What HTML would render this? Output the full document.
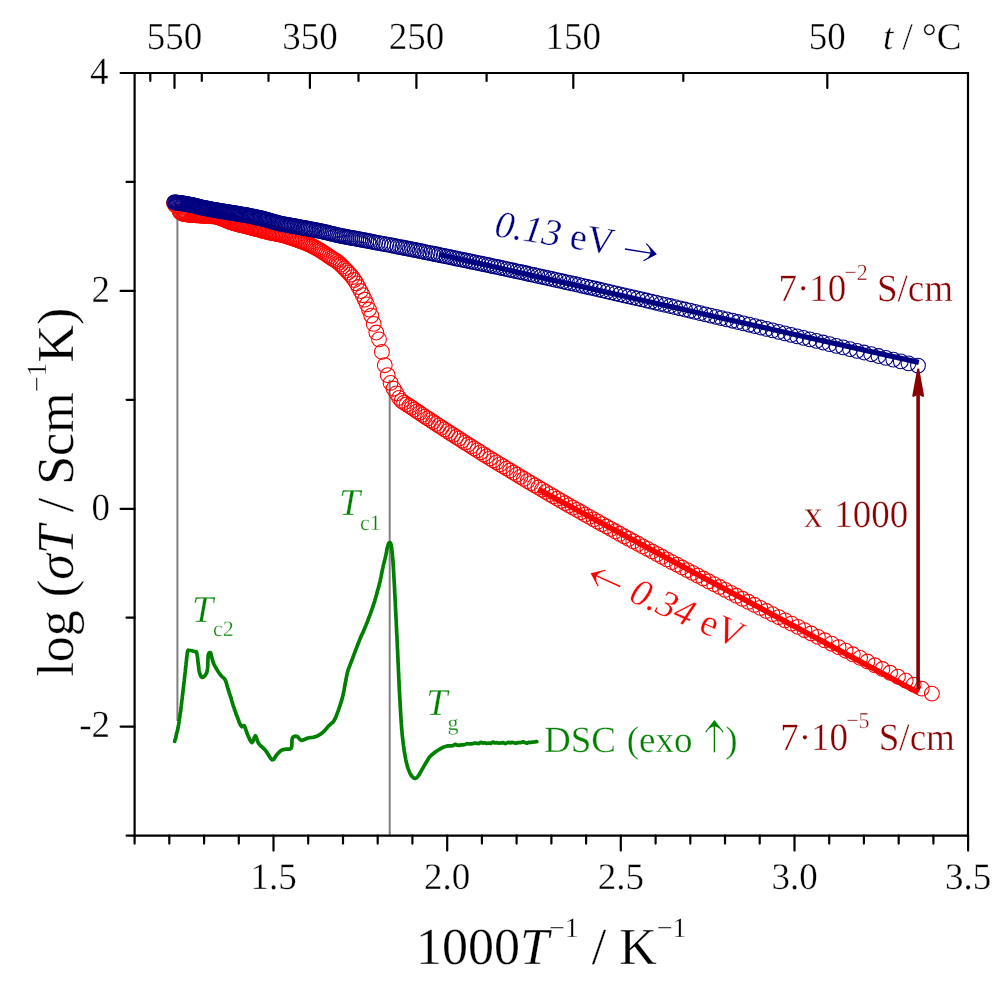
<!DOCTYPE html>
<html><head><meta charset="utf-8"><style>
html,body{margin:0;padding:0;background:#fff;width:1008px;height:981px;overflow:hidden}
svg{display:block;will-change:transform}
text{font-family:"Liberation Serif",serif;text-rendering:geometricPrecision;stroke:#fff;stroke-width:0.45px;stroke-opacity:0.8}
</style></head><body>
<svg width="1008" height="981" viewBox="0 0 1008 981">
<rect width="1008" height="981" fill="#fff"/>
<g stroke="#808080" stroke-width="2">
<line x1="177.4" y1="212" x2="177.4" y2="721"/>
<line x1="389.7" y1="380" x2="389.7" y2="835"/>
</g>
<path d="M174.6,741.4 L175.2,739.2 L175.7,738.6 L176.1,736.1 L176.6,733.1 L177.1,732.3 L177.5,730.3 L178.0,728.0 L178.3,726.1 L178.6,724.6 L178.8,723.2 L179.1,721.3 L179.4,718.6 L179.7,717.7 L179.9,715.7 L180.2,713.4 L180.5,711.8 L180.7,711.2 L181.0,707.7 L181.3,705.5 L181.5,703.6 L181.7,701.9 L181.9,700.0 L182.2,698.5 L182.4,696.2 L182.6,694.6 L182.8,693.1 L183.0,691.0 L183.3,689.0 L183.5,687.6 L183.7,685.2 L183.9,683.4 L184.1,681.6 L184.3,680.5 L184.5,678.3 L184.7,676.3 L184.9,674.4 L185.1,672.8 L185.3,671.4 L185.4,669.5 L185.6,668.7 L185.8,666.0 L186.0,664.4 L186.1,662.8 L186.4,661.3 L186.6,658.5 L186.8,657.0 L187.1,654.7 L187.4,652.7 L187.8,650.6 L188.1,650.1 L188.5,650.3 L189.2,650.5 L190.4,650.5 L192.0,650.8 L193.5,651.2 L194.8,651.6 L195.6,651.7 L196.1,651.7 L196.5,652.2 L197.0,653.9 L197.3,656.1 L197.6,657.6 L197.7,659.5 L197.9,661.0 L198.1,662.6 L198.3,664.7 L198.5,664.8 L198.7,667.8 L199.0,670.3 L199.3,671.8 L200.0,674.3 L200.7,675.9 L201.4,676.9 L202.2,677.4 L203.1,677.2 L204.2,676.4 L205.2,675.2 L206.0,674.0 L206.6,672.9 L207.0,671.8 L207.3,670.4 L207.6,668.4 L207.8,665.3 L207.8,663.0 L207.9,661.5 L207.9,658.9 L208.0,657.8 L208.2,655.0 L208.7,653.5 L209.3,652.7 L209.9,652.5 L210.5,652.7 L210.9,653.5 L211.3,655.0 L211.6,656.7 L212.0,658.3 L212.4,659.7 L212.8,661.0 L213.2,662.4 L213.9,664.0 L214.8,665.9 L216.0,668.0 L217.2,670.0 L218.3,671.8 L219.2,673.2 L220.1,674.3 L220.9,675.3 L221.7,676.3 L222.6,677.1 L223.5,677.9 L224.3,678.6 L225.1,679.7 L225.6,680.8 L226.0,681.9 L226.5,683.6 L227.3,686.4 L228.0,688.7 L228.7,690.8 L229.2,692.9 L229.8,694.3 L230.4,696.3 L231.0,697.8 L231.6,700.3 L232.2,702.3 L232.8,704.1 L233.4,706.5 L234.0,707.7 L234.6,709.8 L235.2,711.2 L235.8,712.9 L236.4,715.1 L237.0,716.2 L237.6,718.0 L238.2,719.1 L238.8,721.3 L239.3,722.5 L240.1,724.4 L240.8,725.7 L241.9,726.8 L242.7,726.3 L243.4,725.5 L244.2,725.7 L245.0,727.3 L245.8,729.7 L246.6,732.2 L247.5,734.6 L248.6,737.0 L249.7,739.5 L250.9,741.6 L252.0,742.5 L252.9,741.5 L253.8,739.2 L254.6,736.8 L255.4,735.8 L256.1,736.8 L256.8,738.9 L257.6,741.4 L258.7,743.6 L260.2,745.3 L261.9,746.9 L263.7,748.5 L265.5,750.4 L267.2,752.9 L268.1,754.3 L269.0,755.8 L270.7,758.4 L272.2,759.8 L273.5,759.5 L274.6,758.2 L275.6,756.3 L276.7,754.8 L277.8,753.6 L278.9,752.4 L280.1,751.3 L281.2,750.4 L282.3,749.9 L283.4,749.6 L284.5,749.4 L285.7,749.2 L287.1,749.1 L288.7,749.2 L290.2,749.0 L291.3,748.1 L291.8,746.0 L291.9,743.1 L292.0,740.1 L292.4,738.0 L293.3,736.9 L294.4,736.3 L295.7,736.2 L296.9,736.4 L298.0,737.1 L299.0,738.4 L300.1,739.6 L301.4,740.3 L302.9,740.1 L304.6,739.5 L306.4,738.6 L308.1,738.0 L309.8,737.7 L311.4,737.5 L313.1,737.3 L314.8,736.9 L316.6,736.2 L318.4,735.4 L320.2,734.4 L322.0,733.1 L323.9,731.4 L325.8,729.3 L327.6,727.1 L329.3,725.3 L330.7,724.0 L331.9,723.1 L333.0,722.1 L334.2,720.4 L335.5,717.9 L336.1,716.3 L336.7,714.8 L337.3,713.1 L338.0,711.4 L338.5,709.8 L339.1,708.2 L339.6,706.7 L340.1,705.2 L341.1,702.1 L342.0,699.1 L342.8,696.0 L343.5,692.9 L344.1,689.9 L344.6,686.8 L345.2,683.7 L345.8,680.6 L346.4,677.4 L347.0,674.4 L347.7,671.5 L348.4,669.1 L349.2,667.1 L350.1,664.8 L350.7,663.2 L351.3,661.7 L352.1,659.6 L352.9,657.5 L353.5,655.8 L354.1,654.1 L354.8,652.4 L355.4,650.6 L356.1,648.9 L356.8,647.1 L357.4,645.5 L358.1,643.8 L358.7,642.2 L359.6,640.0 L360.5,637.8 L361.4,635.7 L362.4,633.7 L363.3,631.6 L364.2,629.5 L365.1,627.3 L366.0,625.1 L366.6,623.5 L367.3,621.9 L367.9,620.3 L368.5,618.6 L369.2,617.0 L369.8,615.3 L370.4,613.6 L371.0,612.0 L371.6,610.3 L372.2,608.7 L372.7,607.1 L373.3,605.5 L373.8,603.9 L374.3,602.4 L374.8,600.8 L375.4,598.5 L376.1,596.2 L376.7,594.1 L377.2,592.0 L377.7,590.2 L378.2,588.4 L378.9,585.9 L379.4,584.1 L379.8,582.5 L380.3,580.3 L380.6,578.7 L381.0,577.1 L381.3,575.3 L381.7,573.5 L382.0,571.6 L382.4,569.7 L382.8,568.1 L383.1,566.4 L383.8,563.6 L384.4,561.2 L385.0,558.9 L385.6,556.5 L386.1,554.0 L386.6,551.4 L387.0,549.0 L387.5,547.0 L388.0,545.3 L388.5,543.8 L389.1,542.8 L389.6,542.5 L390.1,542.7 L390.6,543.3 L391.1,544.8 L391.6,547.5 L391.8,549.5 L392.1,551.4 L392.2,553.1 L392.4,554.8 L392.5,556.4 L392.7,558.5 L392.9,560.5 L393.0,562.5 L393.1,564.3 L393.3,566.1 L393.4,567.9 L393.5,569.7 L393.6,571.4 L393.7,573.2 L393.8,574.9 L393.9,576.7 L394.0,578.4 L394.1,580.1 L394.2,581.8 L394.3,583.4 L394.4,585.1 L394.5,586.8 L394.6,588.5 L394.6,590.2 L394.7,592.0 L394.8,593.8 L394.9,595.5 L395.0,597.3 L395.1,599.1 L395.2,600.8 L395.3,602.5 L395.3,604.2 L395.4,606.0 L395.5,607.7 L395.6,609.4 L395.7,611.1 L395.8,612.7 L395.8,614.4 L395.9,616.0 L396.0,617.7 L396.1,619.3 L396.2,621.0 L396.3,622.6 L396.3,624.3 L396.4,625.9 L396.5,627.6 L396.6,629.2 L396.6,630.8 L396.7,632.5 L396.8,634.1 L396.9,635.8 L397.0,637.4 L397.0,639.1 L397.1,640.7 L397.2,642.4 L397.3,644.0 L397.3,645.7 L397.4,647.3 L397.5,649.0 L397.6,650.7 L397.7,652.4 L397.7,654.2 L397.8,655.9 L397.9,657.6 L398.0,659.3 L398.0,661.1 L398.1,662.8 L398.2,664.6 L398.3,666.3 L398.4,668.1 L398.4,669.9 L398.5,671.5 L398.6,673.2 L398.7,674.9 L398.7,676.6 L398.8,678.2 L398.9,679.9 L399.0,681.7 L399.1,683.4 L399.1,685.2 L399.2,686.9 L399.3,688.7 L399.4,690.5 L399.5,692.3 L399.6,694.0 L399.7,695.8 L399.8,697.8 L399.9,699.7 L400.0,701.7 L400.1,703.4 L400.2,705.2 L400.3,706.9 L400.4,708.6 L400.5,710.3 L400.6,712.0 L400.7,713.7 L400.8,715.3 L400.9,717.0 L401.0,719.3 L401.2,721.6 L401.3,723.7 L401.5,725.9 L401.6,728.0 L401.8,730.0 L402.0,731.9 L402.1,733.8 L402.3,735.6 L402.5,737.3 L402.7,739.0 L402.9,740.7 L403.1,742.3 L403.3,744.0 L403.5,745.7 L403.8,747.4 L404.0,749.1 L404.2,750.8 L404.5,752.4 L404.8,754.0 L405.3,757.0 L405.8,759.8 L406.4,762.4 L407.0,764.8 L407.6,767.0 L408.3,769.1 L409.1,771.1 L409.8,772.8 L410.6,774.3 L411.3,775.5 L412.1,776.5 L412.8,777.2 L413.5,777.8 L414.1,778.2 L414.7,778.4 L415.2,778.4 L415.8,778.2 L416.4,777.9 L417.0,777.4 L417.6,776.8 L418.2,776.0 L418.9,775.1 L419.5,774.0 L420.2,772.8 L421.0,771.5 L421.8,770.0 L422.7,768.4 L423.6,766.8 L424.5,765.2 L425.4,763.7 L426.3,762.2 L427.2,760.8 L428.0,759.5 L428.6,758.5 L429.0,757.7 L429.6,757.0 L430.5,756.0 L431.9,754.7 L433.7,753.3 L435.7,751.8 L437.6,750.5 L439.4,749.3 L441.1,748.3 L443.0,747.3 L445.6,746.5 L447.3,745.9 L449.0,745.9 L451.0,745.8 L453.0,745.6 L455.1,744.3 L457.3,745.2 L459.3,745.4 L461.4,744.9 L463.3,744.9 L465.2,744.5 L467.0,743.5 L468.9,744.0 L470.8,743.8 L472.8,743.6 L475.0,743.0 L477.3,743.3 L479.1,743.6 L480.9,742.3 L482.7,743.1 L484.7,742.7 L486.7,743.4 L488.7,743.0 L490.8,743.5 L492.9,742.0 L495.0,743.0 L497.0,742.7 L499.1,743.1 L501.1,742.9 L503.2,742.6 L505.3,743.6 L507.3,742.8 L508.9,742.3 L510.5,742.9 L512.1,742.3 L513.7,742.7 L515.8,743.3 L517.8,742.7 L519.8,742.6 L521.5,742.4 L523.2,741.8 L524.9,742.5 L526.9,743.2 L529.0,742.3 L530.7,742.5 L532.3,742.1 L534.9,741.9 L536.8,741.7" fill="none" stroke="#008000" stroke-width="3.7" stroke-linejoin="round" stroke-linecap="round"/>
<g fill="none" stroke="#ff0000" stroke-width="1.05"><circle cx="179.5" cy="211.3" r="7.4"/><circle cx="180.4" cy="212.1" r="7.4"/><circle cx="181.2" cy="212.9" r="7.4"/><circle cx="182.1" cy="213.5" r="7.4"/><circle cx="183.0" cy="213.7" r="7.4"/><circle cx="183.9" cy="213.9" r="7.4"/><circle cx="184.8" cy="214.1" r="7.4"/><circle cx="185.7" cy="214.2" r="7.4"/><circle cx="186.6" cy="214.4" r="7.4"/><circle cx="187.5" cy="214.5" r="7.4"/><circle cx="188.4" cy="214.6" r="7.4"/><circle cx="189.3" cy="214.7" r="7.4"/><circle cx="190.2" cy="214.7" r="7.4"/><circle cx="191.1" cy="214.8" r="7.4"/><circle cx="192.0" cy="214.9" r="7.4"/><circle cx="192.9" cy="215.0" r="7.4"/><circle cx="193.9" cy="215.1" r="7.4"/><circle cx="194.8" cy="215.1" r="7.4"/><circle cx="195.7" cy="215.2" r="7.4"/><circle cx="196.7" cy="215.3" r="7.4"/><circle cx="197.6" cy="215.3" r="7.4"/><circle cx="198.6" cy="215.4" r="7.4"/><circle cx="199.5" cy="215.5" r="7.4"/><circle cx="200.5" cy="215.5" r="7.4"/><circle cx="201.4" cy="215.6" r="7.4"/><circle cx="202.4" cy="215.6" r="7.4"/><circle cx="203.4" cy="215.7" r="7.4"/><circle cx="204.3" cy="215.8" r="7.4"/><circle cx="205.3" cy="215.8" r="7.4"/><circle cx="206.3" cy="215.9" r="7.4"/><circle cx="207.3" cy="216.0" r="7.4"/><circle cx="208.3" cy="216.0" r="7.4"/><circle cx="209.2" cy="216.1" r="7.4"/><circle cx="210.2" cy="216.1" r="7.4"/><circle cx="211.2" cy="216.2" r="7.4"/><circle cx="212.3" cy="216.2" r="7.4"/><circle cx="213.3" cy="216.3" r="7.4"/><circle cx="214.3" cy="216.4" r="7.4"/><circle cx="215.3" cy="216.5" r="7.4"/><circle cx="216.3" cy="216.7" r="7.4"/><circle cx="217.3" cy="217.0" r="7.4"/><circle cx="218.4" cy="217.3" r="7.4"/><circle cx="219.4" cy="217.7" r="7.4"/><circle cx="220.5" cy="218.0" r="7.4"/><circle cx="221.5" cy="218.4" r="7.4"/><circle cx="222.6" cy="218.8" r="7.4"/><circle cx="223.6" cy="219.2" r="7.4"/><circle cx="224.7" cy="219.7" r="7.4"/><circle cx="225.7" cy="220.1" r="7.4"/><circle cx="226.8" cy="220.6" r="7.4"/><circle cx="227.9" cy="221.1" r="7.4"/><circle cx="229.0" cy="221.5" r="7.4"/><circle cx="230.0" cy="221.9" r="7.4"/><circle cx="231.1" cy="222.3" r="7.4"/><circle cx="232.2" cy="222.6" r="7.4"/><circle cx="233.3" cy="223.0" r="7.4"/><circle cx="234.4" cy="223.3" r="7.4"/><circle cx="235.5" cy="223.6" r="7.4"/><circle cx="236.7" cy="223.9" r="7.4"/><circle cx="237.8" cy="224.2" r="7.4"/><circle cx="238.9" cy="224.5" r="7.4"/><circle cx="240.1" cy="224.8" r="7.4"/><circle cx="241.2" cy="225.1" r="7.4"/><circle cx="242.4" cy="225.4" r="7.4"/><circle cx="243.5" cy="225.7" r="7.4"/><circle cx="244.7" cy="225.9" r="7.4"/><circle cx="245.9" cy="226.2" r="7.4"/><circle cx="247.0" cy="226.5" r="7.4"/><circle cx="248.2" cy="226.8" r="7.4"/><circle cx="249.4" cy="227.2" r="7.4"/><circle cx="250.7" cy="227.5" r="7.4"/><circle cx="251.9" cy="227.8" r="7.4"/><circle cx="253.1" cy="228.1" r="7.4"/><circle cx="254.3" cy="228.5" r="7.4"/><circle cx="255.6" cy="228.8" r="7.4"/><circle cx="256.8" cy="229.1" r="7.4"/><circle cx="258.1" cy="229.5" r="7.4"/><circle cx="259.4" cy="229.8" r="7.4"/><circle cx="260.7" cy="230.2" r="7.4"/><circle cx="261.9" cy="230.5" r="7.4"/><circle cx="263.2" cy="230.8" r="7.4"/><circle cx="264.6" cy="231.2" r="7.4"/><circle cx="265.9" cy="231.5" r="7.4"/><circle cx="267.2" cy="231.8" r="7.4"/><circle cx="268.5" cy="232.2" r="7.4"/><circle cx="269.9" cy="232.5" r="7.4"/><circle cx="271.2" cy="232.8" r="7.4"/><circle cx="272.6" cy="233.1" r="7.4"/><circle cx="274.0" cy="233.3" r="7.4"/><circle cx="275.4" cy="233.6" r="7.4"/><circle cx="276.8" cy="233.9" r="7.4"/><circle cx="278.2" cy="234.1" r="7.4"/><circle cx="279.6" cy="234.4" r="7.4"/><circle cx="281.0" cy="234.8" r="7.4"/><circle cx="282.5" cy="235.1" r="7.4"/><circle cx="283.9" cy="235.5" r="7.4"/><circle cx="285.4" cy="235.9" r="7.4"/><circle cx="286.9" cy="236.4" r="7.4"/><circle cx="288.3" cy="236.9" r="7.4"/><circle cx="289.8" cy="237.4" r="7.4"/><circle cx="291.3" cy="237.9" r="7.4"/><circle cx="292.9" cy="238.4" r="7.4"/><circle cx="294.4" cy="239.0" r="7.4"/><circle cx="295.9" cy="239.5" r="7.4"/><circle cx="297.5" cy="240.0" r="7.4"/><circle cx="299.1" cy="240.6" r="7.4"/><circle cx="300.6" cy="241.1" r="7.4"/><circle cx="302.2" cy="241.7" r="7.4"/><circle cx="303.8" cy="242.3" r="7.4"/><circle cx="305.4" cy="243.0" r="7.4"/><circle cx="307.1" cy="243.7" r="7.4"/><circle cx="308.7" cy="244.4" r="7.4"/><circle cx="310.4" cy="245.1" r="7.4"/><circle cx="312.0" cy="246.0" r="7.4"/><circle cx="313.7" cy="246.8" r="7.4"/><circle cx="315.4" cy="247.7" r="7.4"/><circle cx="317.1" cy="248.6" r="7.4"/><circle cx="318.9" cy="249.6" r="7.4"/><circle cx="320.6" cy="250.7" r="7.4"/><circle cx="322.3" cy="251.8" r="7.4"/><circle cx="324.1" cy="252.9" r="7.4"/><circle cx="325.9" cy="254.1" r="7.4"/><circle cx="327.7" cy="255.4" r="7.4"/><circle cx="329.5" cy="256.7" r="7.4"/><circle cx="331.3" cy="258.0" r="7.4"/><circle cx="333.2" cy="259.1" r="7.4"/><circle cx="335.0" cy="260.2" r="7.4"/><circle cx="336.9" cy="261.4" r="7.4"/><circle cx="338.8" cy="262.9" r="7.4"/><circle cx="340.7" cy="264.6" r="7.4"/><circle cx="342.6" cy="266.5" r="7.4"/><circle cx="344.5" cy="268.5" r="7.4"/><circle cx="346.5" cy="270.5" r="7.4"/><circle cx="348.4" cy="272.5" r="7.4"/><circle cx="350.4" cy="274.7" r="7.4"/><circle cx="352.4" cy="277.1" r="7.4"/><circle cx="354.4" cy="280.0" r="7.4"/><circle cx="356.5" cy="283.3" r="7.4"/><circle cx="358.5" cy="287.0" r="7.4"/><circle cx="360.6" cy="291.0" r="7.4"/><circle cx="362.7" cy="295.2" r="7.4"/><circle cx="364.8" cy="299.6" r="7.4"/><circle cx="366.9" cy="304.3" r="7.4"/><circle cx="369.0" cy="309.5" r="7.4"/><circle cx="371.3" cy="315.7" r="7.4"/><circle cx="373.7" cy="323.9" r="7.4"/><circle cx="376.3" cy="332.5" r="7.4"/><circle cx="379.0" cy="339.3" r="7.4"/><circle cx="381.9" cy="351.9" r="7.4"/><circle cx="384.8" cy="365.2" r="7.4"/><circle cx="387.7" cy="375.1" r="7.4"/><circle cx="390.6" cy="382.9" r="7.4"/><circle cx="393.6" cy="388.7" r="7.4"/><circle cx="396.4" cy="393.3" r="7.4"/><circle cx="399.1" cy="397.9" r="7.4"/><circle cx="401.6" cy="400.9" r="7.4"/><circle cx="404.1" cy="402.7" r="7.4"/><circle cx="406.7" cy="404.3" r="7.4"/><circle cx="409.3" cy="406.0" r="7.4"/><circle cx="411.8" cy="407.7" r="7.4"/><circle cx="414.4" cy="409.5" r="7.4"/><circle cx="417.1" cy="411.3" r="7.4"/><circle cx="419.7" cy="413.0" r="7.4"/><circle cx="422.4" cy="414.8" r="7.4"/><circle cx="425.0" cy="416.6" r="7.4"/><circle cx="427.7" cy="418.4" r="7.4"/><circle cx="430.5" cy="420.2" r="7.4"/><circle cx="433.2" cy="422.0" r="7.4"/><circle cx="436.0" cy="423.8" r="7.4"/><circle cx="438.8" cy="425.6" r="7.4"/><circle cx="441.6" cy="427.5" r="7.4"/><circle cx="444.5" cy="429.3" r="7.4"/><circle cx="447.3" cy="431.2" r="7.4"/><circle cx="450.2" cy="433.1" r="7.4"/><circle cx="453.1" cy="434.9" r="7.4"/><circle cx="456.1" cy="436.8" r="7.4"/><circle cx="459.0" cy="438.7" r="7.4"/><circle cx="462.0" cy="440.6" r="7.4"/><circle cx="465.0" cy="442.6" r="7.4"/><circle cx="468.1" cy="444.5" r="7.4"/><circle cx="471.1" cy="446.4" r="7.4"/><circle cx="474.2" cy="448.4" r="7.4"/><circle cx="477.3" cy="450.3" r="7.4"/><circle cx="480.5" cy="452.3" r="7.4"/><circle cx="483.6" cy="454.3" r="7.4"/><circle cx="486.8" cy="456.3" r="7.4"/><circle cx="490.1" cy="458.3" r="7.4"/><circle cx="493.3" cy="460.3" r="7.4"/><circle cx="496.6" cy="462.3" r="7.4"/><circle cx="499.9" cy="464.4" r="7.4"/><circle cx="503.3" cy="466.4" r="7.4"/><circle cx="506.6" cy="468.5" r="7.4"/><circle cx="510.1" cy="470.5" r="7.4"/><circle cx="513.5" cy="472.6" r="7.4"/><circle cx="517.0" cy="474.7" r="7.4"/><circle cx="520.5" cy="476.8" r="7.4"/><circle cx="524.0" cy="478.9" r="7.4"/><circle cx="527.5" cy="481.1" r="7.4"/><circle cx="531.1" cy="483.2" r="7.4"/><circle cx="534.8" cy="485.4" r="7.4"/><circle cx="538.4" cy="487.5" r="7.4"/><circle cx="542.1" cy="489.7" r="7.4"/><circle cx="545.9" cy="491.9" r="7.4"/><circle cx="549.6" cy="494.1" r="7.4"/><circle cx="553.4" cy="496.3" r="7.4"/><circle cx="557.3" cy="498.6" r="7.4"/><circle cx="561.2" cy="500.8" r="7.4"/><circle cx="565.1" cy="503.1" r="7.4"/><circle cx="569.0" cy="505.3" r="7.4"/><circle cx="573.0" cy="507.6" r="7.4"/><circle cx="577.1" cy="509.9" r="7.4"/><circle cx="581.1" cy="512.2" r="7.4"/><circle cx="585.2" cy="514.6" r="7.4"/><circle cx="589.4" cy="516.9" r="7.4"/><circle cx="593.6" cy="519.3" r="7.4"/><circle cx="597.8" cy="521.7" r="7.4"/><circle cx="602.1" cy="524.1" r="7.4"/><circle cx="606.4" cy="526.5" r="7.4"/><circle cx="610.8" cy="528.9" r="7.4"/><circle cx="615.2" cy="531.3" r="7.4"/><circle cx="619.7" cy="533.8" r="7.4"/><circle cx="624.2" cy="536.3" r="7.4"/><circle cx="628.7" cy="538.8" r="7.4"/><circle cx="633.3" cy="541.3" r="7.4"/><circle cx="638.0" cy="543.8" r="7.4"/><circle cx="642.7" cy="546.4" r="7.4"/><circle cx="647.4" cy="548.9" r="7.4"/><circle cx="652.2" cy="551.5" r="7.4"/><circle cx="657.1" cy="554.1" r="7.4"/><circle cx="662.0" cy="556.8" r="7.4"/><circle cx="666.9" cy="559.4" r="7.4"/><circle cx="671.9" cy="562.1" r="7.4"/><circle cx="677.0" cy="564.7" r="7.4"/><circle cx="682.1" cy="567.5" r="7.4"/><circle cx="687.3" cy="570.2" r="7.4"/><circle cx="692.5" cy="572.9" r="7.4"/><circle cx="697.8" cy="575.7" r="7.4"/><circle cx="703.2" cy="578.5" r="7.4"/><circle cx="708.6" cy="581.3" r="7.4"/><circle cx="714.1" cy="584.2" r="7.4"/><circle cx="719.6" cy="587.0" r="7.4"/><circle cx="725.2" cy="589.9" r="7.4"/><circle cx="730.9" cy="592.9" r="7.4"/><circle cx="736.6" cy="595.8" r="7.4"/><circle cx="742.4" cy="598.8" r="7.4"/><circle cx="748.3" cy="601.8" r="7.4"/><circle cx="754.3" cy="604.8" r="7.4"/><circle cx="760.3" cy="607.9" r="7.4"/><circle cx="766.4" cy="611.0" r="7.4"/><circle cx="772.5" cy="614.1" r="7.4"/><circle cx="778.8" cy="617.2" r="7.4"/><circle cx="785.1" cy="620.4" r="7.4"/><circle cx="791.5" cy="623.6" r="7.4"/><circle cx="798.0" cy="626.9" r="7.4"/><circle cx="804.5" cy="630.2" r="7.4"/><circle cx="811.1" cy="633.5" r="7.4"/><circle cx="817.9" cy="636.9" r="7.4"/><circle cx="824.7" cy="640.3" r="7.4"/><circle cx="831.6" cy="643.7" r="7.4"/><circle cx="838.6" cy="647.2" r="7.4"/><circle cx="845.6" cy="650.7" r="7.4"/><circle cx="852.8" cy="654.3" r="7.4"/><circle cx="860.1" cy="657.9" r="7.4"/><circle cx="867.4" cy="661.5" r="7.4"/><circle cx="874.9" cy="665.3" r="7.4"/><circle cx="882.4" cy="669.0" r="7.4"/><circle cx="890.1" cy="672.8" r="7.4"/><circle cx="897.9" cy="676.7" r="7.4"/><circle cx="905.7" cy="680.6" r="7.4"/><circle cx="913.7" cy="684.6" r="7.4"/><circle cx="921.8" cy="688.6" r="7.4"/><circle cx="931.9" cy="693.6" r="7.4"/><circle cx="174.0" cy="203.2" r="7.4"/><circle cx="175.5" cy="205.5" r="7.4"/></g>
<line x1="538.2" y1="489.3" x2="918.4" y2="692.6" stroke="#ff0000" stroke-width="5.6"/>
<g fill="none" stroke="#000080" stroke-width="1.05"><circle cx="174.3" cy="202.3" r="7.4"/><circle cx="175.1" cy="202.4" r="7.4"/><circle cx="175.9" cy="202.5" r="7.4"/><circle cx="176.8" cy="202.6" r="7.4"/><circle cx="177.6" cy="202.7" r="7.4"/><circle cx="178.4" cy="202.8" r="7.4"/><circle cx="179.3" cy="202.9" r="7.4"/><circle cx="180.1" cy="203.0" r="7.4"/><circle cx="181.0" cy="203.1" r="7.4"/><circle cx="181.8" cy="203.3" r="7.4"/><circle cx="182.7" cy="203.4" r="7.4"/><circle cx="183.5" cy="203.5" r="7.4"/><circle cx="184.4" cy="203.7" r="7.4"/><circle cx="185.2" cy="203.8" r="7.4"/><circle cx="186.1" cy="204.0" r="7.4"/><circle cx="187.0" cy="204.1" r="7.4"/><circle cx="187.8" cy="204.3" r="7.4"/><circle cx="188.7" cy="204.4" r="7.4"/><circle cx="189.6" cy="204.6" r="7.4"/><circle cx="190.5" cy="204.7" r="7.4"/><circle cx="191.4" cy="204.9" r="7.4"/><circle cx="192.2" cy="205.1" r="7.4"/><circle cx="193.1" cy="205.3" r="7.4"/><circle cx="194.0" cy="205.5" r="7.4"/><circle cx="194.9" cy="205.7" r="7.4"/><circle cx="195.8" cy="205.9" r="7.4"/><circle cx="196.7" cy="206.2" r="7.4"/><circle cx="197.6" cy="206.4" r="7.4"/><circle cx="198.6" cy="206.6" r="7.4"/><circle cx="199.5" cy="206.9" r="7.4"/><circle cx="200.4" cy="207.1" r="7.4"/><circle cx="201.3" cy="207.3" r="7.4"/><circle cx="202.3" cy="207.6" r="7.4"/><circle cx="203.2" cy="207.8" r="7.4"/><circle cx="204.1" cy="208.0" r="7.4"/><circle cx="205.1" cy="208.2" r="7.4"/><circle cx="206.0" cy="208.4" r="7.4"/><circle cx="207.0" cy="208.5" r="7.4"/><circle cx="207.9" cy="208.7" r="7.4"/><circle cx="208.9" cy="208.9" r="7.4"/><circle cx="209.8" cy="209.1" r="7.4"/><circle cx="210.8" cy="209.3" r="7.4"/><circle cx="211.8" cy="209.4" r="7.4"/><circle cx="212.7" cy="209.6" r="7.4"/><circle cx="213.7" cy="209.8" r="7.4"/><circle cx="214.7" cy="209.9" r="7.4"/><circle cx="215.7" cy="210.1" r="7.4"/><circle cx="216.7" cy="210.3" r="7.4"/><circle cx="217.7" cy="210.4" r="7.4"/><circle cx="218.7" cy="210.6" r="7.4"/><circle cx="219.7" cy="210.8" r="7.4"/><circle cx="220.7" cy="211.0" r="7.4"/><circle cx="221.7" cy="211.1" r="7.4"/><circle cx="222.7" cy="211.3" r="7.4"/><circle cx="223.7" cy="211.5" r="7.4"/><circle cx="224.8" cy="211.6" r="7.4"/><circle cx="225.8" cy="211.8" r="7.4"/><circle cx="226.8" cy="212.0" r="7.4"/><circle cx="227.9" cy="212.1" r="7.4"/><circle cx="228.9" cy="212.3" r="7.4"/><circle cx="229.9" cy="212.5" r="7.4"/><circle cx="231.0" cy="212.7" r="7.4"/><circle cx="232.1" cy="212.8" r="7.4"/><circle cx="233.1" cy="213.0" r="7.4"/><circle cx="234.2" cy="213.2" r="7.4"/><circle cx="235.3" cy="213.4" r="7.4"/><circle cx="236.3" cy="213.5" r="7.4"/><circle cx="237.4" cy="213.7" r="7.4"/><circle cx="238.5" cy="213.9" r="7.4"/><circle cx="239.6" cy="214.1" r="7.4"/><circle cx="240.7" cy="214.3" r="7.4"/><circle cx="241.8" cy="214.4" r="7.4"/><circle cx="242.9" cy="214.6" r="7.4"/><circle cx="244.1" cy="214.8" r="7.4"/><circle cx="245.2" cy="215.0" r="7.4"/><circle cx="246.3" cy="215.2" r="7.4"/><circle cx="247.5" cy="215.4" r="7.4"/><circle cx="248.7" cy="215.6" r="7.4"/><circle cx="249.8" cy="215.9" r="7.4"/><circle cx="251.0" cy="216.1" r="7.4"/><circle cx="252.2" cy="216.3" r="7.4"/><circle cx="253.4" cy="216.6" r="7.4"/><circle cx="254.6" cy="216.8" r="7.4"/><circle cx="255.8" cy="217.1" r="7.4"/><circle cx="257.0" cy="217.4" r="7.4"/><circle cx="258.2" cy="217.7" r="7.4"/><circle cx="259.4" cy="217.9" r="7.4"/><circle cx="260.7" cy="218.2" r="7.4"/><circle cx="261.9" cy="218.5" r="7.4"/><circle cx="263.2" cy="218.8" r="7.4"/><circle cx="264.4" cy="219.2" r="7.4"/><circle cx="265.7" cy="219.5" r="7.4"/><circle cx="267.0" cy="219.8" r="7.4"/><circle cx="268.3" cy="220.2" r="7.4"/><circle cx="269.6" cy="220.6" r="7.4"/><circle cx="270.9" cy="221.0" r="7.4"/><circle cx="272.2" cy="221.4" r="7.4"/><circle cx="273.5" cy="221.8" r="7.4"/><circle cx="274.9" cy="222.1" r="7.4"/><circle cx="276.2" cy="222.5" r="7.4"/><circle cx="277.6" cy="222.9" r="7.4"/><circle cx="278.9" cy="223.2" r="7.4"/><circle cx="280.3" cy="223.6" r="7.4"/><circle cx="281.7" cy="223.9" r="7.4"/><circle cx="283.1" cy="224.2" r="7.4"/><circle cx="284.5" cy="224.4" r="7.4"/><circle cx="285.9" cy="224.7" r="7.4"/><circle cx="287.3" cy="225.0" r="7.4"/><circle cx="288.8" cy="225.2" r="7.4"/><circle cx="290.2" cy="225.5" r="7.4"/><circle cx="291.7" cy="225.7" r="7.4"/><circle cx="293.2" cy="226.0" r="7.4"/><circle cx="294.6" cy="226.2" r="7.4"/><circle cx="296.1" cy="226.5" r="7.4"/><circle cx="297.6" cy="226.8" r="7.4"/><circle cx="299.1" cy="227.0" r="7.4"/><circle cx="300.7" cy="227.3" r="7.4"/><circle cx="302.2" cy="227.6" r="7.4"/><circle cx="303.8" cy="227.9" r="7.4"/><circle cx="305.3" cy="228.2" r="7.4"/><circle cx="306.9" cy="228.5" r="7.4"/><circle cx="308.5" cy="228.8" r="7.4"/><circle cx="310.1" cy="229.1" r="7.4"/><circle cx="311.7" cy="229.4" r="7.4"/><circle cx="313.3" cy="229.7" r="7.4"/><circle cx="314.9" cy="230.0" r="7.4"/><circle cx="316.6" cy="230.3" r="7.4"/><circle cx="318.3" cy="230.6" r="7.4"/><circle cx="319.9" cy="231.0" r="7.4"/><circle cx="321.6" cy="231.3" r="7.4"/><circle cx="323.3" cy="231.7" r="7.4"/><circle cx="325.0" cy="232.1" r="7.4"/><circle cx="326.8" cy="232.5" r="7.4"/><circle cx="328.5" cy="232.9" r="7.4"/><circle cx="330.2" cy="233.4" r="7.4"/><circle cx="332.0" cy="233.8" r="7.4"/><circle cx="333.8" cy="234.2" r="7.4"/><circle cx="335.6" cy="234.6" r="7.4"/><circle cx="337.4" cy="235.1" r="7.4"/><circle cx="339.2" cy="235.5" r="7.4"/><circle cx="341.1" cy="235.8" r="7.4"/><circle cx="342.9" cy="236.2" r="7.4"/><circle cx="344.8" cy="236.6" r="7.4"/><circle cx="346.7" cy="237.0" r="7.4"/><circle cx="348.6" cy="237.3" r="7.4"/><circle cx="350.5" cy="237.7" r="7.4"/><circle cx="352.4" cy="238.0" r="7.4"/><circle cx="354.4" cy="238.4" r="7.4"/><circle cx="356.3" cy="238.7" r="7.4"/><circle cx="358.3" cy="239.1" r="7.4"/><circle cx="360.3" cy="239.5" r="7.4"/><circle cx="362.3" cy="239.8" r="7.4"/><circle cx="364.4" cy="240.2" r="7.4"/><circle cx="366.4" cy="240.6" r="7.4"/><circle cx="368.5" cy="241.0" r="7.4"/><circle cx="370.6" cy="241.4" r="7.4"/><circle cx="372.9" cy="241.8" r="7.4"/><circle cx="375.3" cy="242.3" r="7.4"/><circle cx="377.9" cy="242.8" r="7.4"/><circle cx="380.6" cy="243.3" r="7.4"/><circle cx="383.4" cy="243.8" r="7.4"/><circle cx="386.2" cy="244.4" r="7.4"/><circle cx="389.1" cy="244.9" r="7.4"/><circle cx="391.9" cy="245.5" r="7.4"/><circle cx="394.7" cy="246.0" r="7.4"/><circle cx="397.4" cy="246.6" r="7.4"/><circle cx="399.9" cy="247.1" r="7.4"/><circle cx="402.4" cy="247.5" r="7.4"/><circle cx="404.8" cy="248.0" r="7.4"/><circle cx="407.3" cy="248.5" r="7.4"/><circle cx="409.8" cy="249.0" r="7.4"/><circle cx="412.3" cy="249.5" r="7.4"/><circle cx="414.8" cy="250.0" r="7.4"/><circle cx="417.3" cy="250.5" r="7.4"/><circle cx="419.9" cy="251.0" r="7.4"/><circle cx="422.4" cy="251.5" r="7.4"/><circle cx="425.0" cy="252.1" r="7.4"/><circle cx="427.6" cy="252.6" r="7.4"/><circle cx="430.3" cy="253.1" r="7.4"/><circle cx="432.9" cy="253.7" r="7.4"/><circle cx="435.6" cy="254.2" r="7.4"/><circle cx="438.3" cy="254.7" r="7.4"/><circle cx="441.0" cy="255.3" r="7.4"/><circle cx="443.8" cy="255.9" r="7.4"/><circle cx="446.5" cy="256.4" r="7.4"/><circle cx="449.3" cy="257.0" r="7.4"/><circle cx="452.1" cy="257.6" r="7.4"/><circle cx="455.0" cy="258.2" r="7.4"/><circle cx="457.8" cy="258.8" r="7.4"/><circle cx="460.7" cy="259.4" r="7.4"/><circle cx="463.6" cy="260.0" r="7.4"/><circle cx="466.5" cy="260.6" r="7.4"/><circle cx="469.5" cy="261.2" r="7.4"/><circle cx="472.4" cy="261.8" r="7.4"/><circle cx="475.4" cy="262.4" r="7.4"/><circle cx="478.4" cy="263.1" r="7.4"/><circle cx="481.5" cy="263.7" r="7.4"/><circle cx="484.6" cy="264.4" r="7.4"/><circle cx="487.7" cy="265.0" r="7.4"/><circle cx="490.8" cy="265.7" r="7.4"/><circle cx="493.9" cy="266.4" r="7.4"/><circle cx="497.1" cy="267.0" r="7.4"/><circle cx="500.3" cy="267.7" r="7.4"/><circle cx="503.6" cy="268.4" r="7.4"/><circle cx="506.8" cy="269.1" r="7.4"/><circle cx="510.1" cy="269.8" r="7.4"/><circle cx="513.4" cy="270.5" r="7.4"/><circle cx="516.8" cy="271.3" r="7.4"/><circle cx="520.2" cy="272.0" r="7.4"/><circle cx="523.6" cy="272.7" r="7.4"/><circle cx="527.0" cy="273.5" r="7.4"/><circle cx="530.5" cy="274.3" r="7.4"/><circle cx="534.0" cy="275.0" r="7.4"/><circle cx="537.5" cy="275.8" r="7.4"/><circle cx="541.1" cy="276.6" r="7.4"/><circle cx="544.7" cy="277.4" r="7.4"/><circle cx="548.3" cy="278.2" r="7.4"/><circle cx="552.0" cy="279.0" r="7.4"/><circle cx="555.7" cy="279.8" r="7.4"/><circle cx="559.4" cy="280.6" r="7.4"/><circle cx="563.2" cy="281.5" r="7.4"/><circle cx="567.0" cy="282.3" r="7.4"/><circle cx="570.8" cy="283.2" r="7.4"/><circle cx="574.7" cy="284.0" r="7.4"/><circle cx="578.6" cy="284.9" r="7.4"/><circle cx="582.5" cy="285.8" r="7.4"/><circle cx="586.5" cy="286.7" r="7.4"/><circle cx="590.5" cy="287.6" r="7.4"/><circle cx="594.6" cy="288.5" r="7.4"/><circle cx="598.7" cy="289.5" r="7.4"/><circle cx="602.8" cy="290.4" r="7.4"/><circle cx="607.0" cy="291.4" r="7.4"/><circle cx="611.2" cy="292.3" r="7.4"/><circle cx="615.5" cy="293.3" r="7.4"/><circle cx="619.8" cy="294.3" r="7.4"/><circle cx="624.2" cy="295.3" r="7.4"/><circle cx="628.6" cy="296.3" r="7.4"/><circle cx="633.0" cy="297.3" r="7.4"/><circle cx="637.5" cy="298.4" r="7.4"/><circle cx="642.0" cy="299.4" r="7.4"/><circle cx="646.6" cy="300.5" r="7.4"/><circle cx="651.2" cy="301.6" r="7.4"/><circle cx="655.9" cy="302.7" r="7.4"/><circle cx="660.6" cy="303.8" r="7.4"/><circle cx="665.4" cy="304.9" r="7.4"/><circle cx="670.2" cy="306.0" r="7.4"/><circle cx="675.1" cy="307.1" r="7.4"/><circle cx="680.0" cy="308.3" r="7.4"/><circle cx="685.0" cy="309.5" r="7.4"/><circle cx="690.1" cy="310.7" r="7.4"/><circle cx="695.1" cy="311.9" r="7.4"/><circle cx="700.3" cy="313.1" r="7.4"/><circle cx="705.5" cy="314.3" r="7.4"/><circle cx="710.7" cy="315.6" r="7.4"/><circle cx="716.1" cy="316.8" r="7.4"/><circle cx="721.4" cy="318.1" r="7.4"/><circle cx="726.9" cy="319.4" r="7.4"/><circle cx="732.4" cy="320.7" r="7.4"/><circle cx="737.9" cy="322.0" r="7.4"/><circle cx="743.6" cy="323.4" r="7.4"/><circle cx="749.2" cy="324.7" r="7.4"/><circle cx="755.0" cy="326.1" r="7.4"/><circle cx="760.8" cy="327.5" r="7.4"/><circle cx="766.7" cy="328.9" r="7.4"/><circle cx="772.7" cy="330.4" r="7.4"/><circle cx="778.7" cy="331.8" r="7.4"/><circle cx="784.8" cy="333.3" r="7.4"/><circle cx="791.0" cy="334.8" r="7.4"/><circle cx="797.2" cy="336.3" r="7.4"/><circle cx="803.5" cy="337.8" r="7.4"/><circle cx="809.9" cy="339.4" r="7.4"/><circle cx="816.4" cy="340.9" r="7.4"/><circle cx="823.0" cy="342.5" r="7.4"/><circle cx="829.6" cy="344.1" r="7.4"/><circle cx="836.3" cy="345.8" r="7.4"/><circle cx="843.1" cy="347.4" r="7.4"/><circle cx="850.0" cy="349.1" r="7.4"/><circle cx="857.0" cy="350.8" r="7.4"/><circle cx="864.1" cy="352.5" r="7.4"/><circle cx="871.2" cy="354.2" r="7.4"/><circle cx="878.5" cy="356.0" r="7.4"/><circle cx="885.8" cy="357.8" r="7.4"/><circle cx="893.3" cy="359.6" r="7.4"/><circle cx="900.8" cy="361.4" r="7.4"/><circle cx="908.5" cy="363.3" r="7.4"/><circle cx="918.0" cy="365.6" r="7.4"/></g>
<line x1="439.1" y1="254.5" x2="918.8" y2="362.4" stroke="#000080" stroke-width="5.2"/>
<g stroke="#8b0000" fill="#8b0000">
<line x1="918.1" y1="689.6" x2="918.1" y2="392" stroke-width="3.6"/>
<path d="M918.2 369.5 L923 395.8 L918.2 393.2 L913.4 395.8 Z" stroke-width="2.2" stroke-linejoin="round"/>
</g>
<g stroke="#000" stroke-width="2.2" stroke-linecap="round" fill="none">
<path d="M134.6 73 H968 V835.6 H134.6 Z" stroke-linecap="square"/>
<line x1="134.6" y1="835.6" x2="134.6" y2="843.6"/><line x1="169.3" y1="835.6" x2="169.3" y2="843.6"/><line x1="204.1" y1="835.6" x2="204.1" y2="843.6"/><line x1="238.8" y1="835.6" x2="238.8" y2="843.6"/><line x1="273.5" y1="835.6" x2="273.5" y2="850.6"/><line x1="308.2" y1="835.6" x2="308.2" y2="843.6"/><line x1="343.0" y1="835.6" x2="343.0" y2="843.6"/><line x1="377.7" y1="835.6" x2="377.7" y2="843.6"/><line x1="412.4" y1="835.6" x2="412.4" y2="843.6"/><line x1="447.2" y1="835.6" x2="447.2" y2="850.6"/><line x1="481.9" y1="835.6" x2="481.9" y2="843.6"/><line x1="516.6" y1="835.6" x2="516.6" y2="843.6"/><line x1="551.4" y1="835.6" x2="551.4" y2="843.6"/><line x1="586.1" y1="835.6" x2="586.1" y2="843.6"/><line x1="620.8" y1="835.6" x2="620.8" y2="850.6"/><line x1="655.6" y1="835.6" x2="655.6" y2="843.6"/><line x1="690.3" y1="835.6" x2="690.3" y2="843.6"/><line x1="725.0" y1="835.6" x2="725.0" y2="843.6"/><line x1="759.7" y1="835.6" x2="759.7" y2="843.6"/><line x1="794.5" y1="835.6" x2="794.5" y2="850.6"/><line x1="829.2" y1="835.6" x2="829.2" y2="843.6"/><line x1="863.9" y1="835.6" x2="863.9" y2="843.6"/><line x1="898.7" y1="835.6" x2="898.7" y2="843.6"/><line x1="933.4" y1="835.6" x2="933.4" y2="843.6"/><line x1="968.1" y1="835.6" x2="968.1" y2="850.6"/><line x1="150.3" y1="73" x2="150.3" y2="81"/><line x1="174.5" y1="73" x2="174.5" y2="88"/><line x1="201.8" y1="73" x2="201.8" y2="81"/><line x1="268.5" y1="73" x2="268.5" y2="81"/><line x1="309.9" y1="73" x2="309.9" y2="88"/><line x1="358.5" y1="73" x2="358.5" y2="81"/><line x1="416.4" y1="73" x2="416.4" y2="88"/><line x1="486.6" y1="73" x2="486.6" y2="81"/><line x1="573.3" y1="73" x2="573.3" y2="88"/><line x1="683.3" y1="73" x2="683.3" y2="81"/><line x1="827.3" y1="73" x2="827.3" y2="88"/><line x1="126.6" y1="835.6" x2="134.6" y2="835.6"/><line x1="120.6" y1="726.6" x2="134.6" y2="726.6"/><line x1="126.6" y1="617.7" x2="134.6" y2="617.7"/><line x1="120.6" y1="508.8" x2="134.6" y2="508.8"/><line x1="126.6" y1="399.8" x2="134.6" y2="399.8"/><line x1="120.6" y1="290.9" x2="134.6" y2="290.9"/><line x1="126.6" y1="181.9" x2="134.6" y2="181.9"/><line x1="120.6" y1="73.0" x2="134.6" y2="73.0"/>
</g>
<g font-family="Liberation Serif" font-size="37" fill="#000">
<g text-anchor="middle">
<text x="273.5" y="889" transform="matrix(1 0 0 1.015 0 -13.33)">1.5</text>
<text x="447.2" y="889" transform="matrix(1 0 0 1.015 0 -13.33)">2.0</text>
<text x="620.8" y="889" transform="matrix(1 0 0 1.015 0 -13.33)">2.5</text>
<text x="794.5" y="889" transform="matrix(1 0 0 1.015 0 -13.33)">3.0</text>
<text x="968.1" y="889" transform="matrix(1 0 0 1.015 0 -13.33)">3.5</text>
<text x="174.5" y="49.2" transform="matrix(1 0 0 1.035 0 -1.72)">550</text>
<text x="309.9" y="49.2" transform="matrix(1 0 0 1.035 0 -1.72)">350</text>
<text x="416.4" y="49.2" transform="matrix(1 0 0 1.035 0 -1.72)">250</text>
<text x="573.3" y="49.2" transform="matrix(1 0 0 1.035 0 -1.72)">150</text>
<text x="827.3" y="49.2" transform="matrix(1 0 0 1.035 0 -1.72)">50</text>
</g>
<text x="883" y="49.2" transform="matrix(1 0 0 1.02 0 -0.98)"><tspan font-style="italic">t</tspan> / °C</text>
<g text-anchor="end">
<text x="108.6" y="83.8" transform="matrix(1 0 0 1.035 0 -2.93)">4</text>
<text x="110" y="301.7" transform="matrix(1 0 0 1.035 0 -10.56)">2</text>
<text x="110" y="519.6" transform="matrix(1 0 0 1.035 0 -18.18)">0</text>
<text x="110" y="737.4" transform="matrix(1 0 0 1.035 0 -25.81)">-2</text>
</g>
</g>
<g font-family="Liberation Serif" font-size="52" fill="#000">
<text x="416" y="964">1000<tspan font-style="italic">T</tspan><tspan font-size="28" dy="-27">−1</tspan><tspan dy="27"> / K</tspan><tspan font-size="28" dy="-27">−1</tspan></text>
<text transform="translate(73 676.6) rotate(-90)">log (<tspan font-style="italic">σT</tspan> / Scm<tspan font-size="28" dy="-27">−1</tspan><tspan dy="27">K)</tspan></text>
</g>
<g font-family="Liberation Serif" font-size="37">
<text fill="#000080" font-size="38" transform="translate(493.5 236) rotate(9)"><tspan font-style="italic">0.13</tspan> eV</text><g transform="translate(656.1 254.0) rotate(9.2)" fill="#000080"><rect x="-31.6" y="-0.7" width="27.6" height="1.4"/><path d="M0.8,0 L-11,-9.2 L-11.8,-8.2 Q-6.5,-5.1 -5.6,0 Q-6.5,5.1 -11.8,8.2 L-11,9.2 Z"/></g>
<text fill="#ff0000" font-size="38" transform="translate(627.5 600.6) rotate(23.5)"><tspan font-style="italic">0.34</tspan> eV</text><g transform="translate(591.4 573.5) rotate(204.3)" fill="#ff0000"><rect x="-31.6" y="-0.7" width="27.6" height="1.4"/><path d="M0.8,0 L-11,-9.2 L-11.8,-8.2 Q-6.5,-5.1 -5.6,0 Q-6.5,5.1 -11.8,8.2 L-11,9.2 Z"/></g>
<g fill="#8b0000">
<text x="778.5" y="301.5" transform="matrix(1 0 0 1.045 0 -13.57)">7·10<tspan font-size="22" dy="-21" dx="-2">−2</tspan><tspan dy="21" dx="0"> S/cm</tspan></text>
<text x="780.3" y="750" transform="matrix(1 0 0 1.045 0 -33.75)">7·10<tspan font-size="22" dy="-21" dx="-2">−5</tspan><tspan dy="21" dx="0"> S/cm</tspan></text>
<text x="804" y="527.4" transform="matrix(1 0 0 1.04 0 -21.10)">x<tspan dx="2.5"> 1000</tspan></text>
</g>
<g fill="#008000">
<text x="339" y="514.8" font-size="38" font-style="italic">T</text><text x="360" y="529.8" font-size="22">c1</text>
<text x="192" y="621.6" font-size="38" font-style="italic">T</text><text x="213" y="636.3" font-size="22">c2</text>
<text x="426.3" y="715" font-size="38" font-style="italic">T</text><text x="447.5" y="730" font-size="22">g</text>
<text x="544" y="751.7">DSC <tspan dx="1.5">(exo</tspan></text><text x="725.2" y="751.7">)</text><g transform="translate(714.4 720.7) rotate(-90)" fill="#008000"><rect x="-31.6" y="-0.7" width="27.6" height="1.4"/><path d="M0.8,0 L-11,-9.2 L-11.8,-8.2 Q-6.5,-5.1 -5.6,0 Q-6.5,5.1 -11.8,8.2 L-11,9.2 Z"/></g>
</g>
</g>
</svg>
</body></html>
